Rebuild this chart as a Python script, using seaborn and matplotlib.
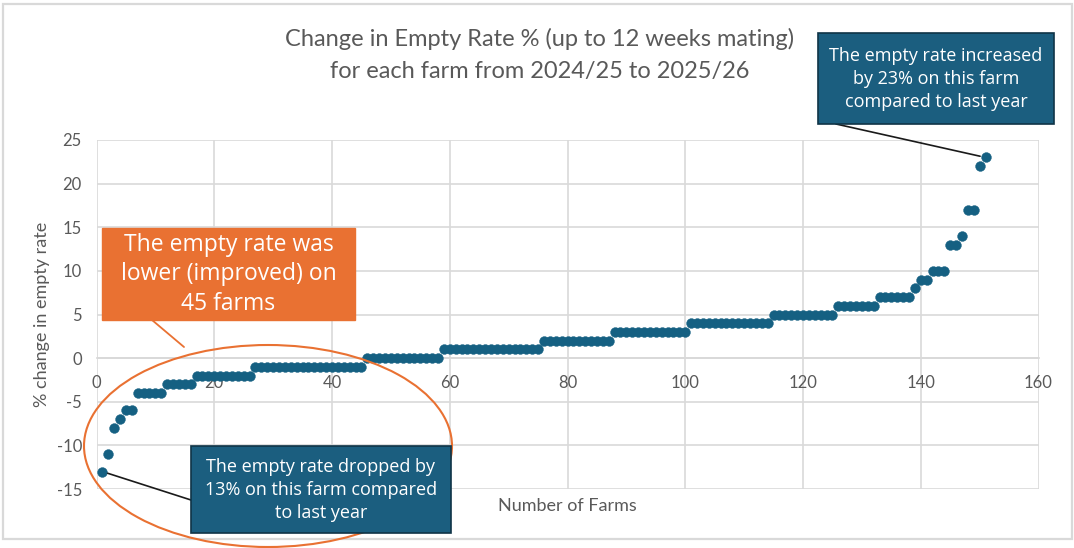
import numpy as np
import pandas as pd
import matplotlib
matplotlib.use("Agg")
import matplotlib.pyplot as plt
import seaborn as sns
from matplotlib.patches import Rectangle, Ellipse

# % change in empty rate, sorted; each level repeated for the farms on it
levels = [-13, -11, -8, -7, -6, -4, -3, -2, -1, 0, 1, 2, 3, 4, 5, 6, 7, 8, 9, 10, 13, 14, 17, 22, 23]
farms_per_level = [1, 1, 1, 1, 2, 5, 5, 10, 19, 13, 17, 12, 13, 14, 11, 7, 6, 1, 2, 3, 2, 1, 2, 1, 1]

x_ticks = [0, 20, 40, 60, 80, 100, 120, 140, 160]
y_ticks = [-15, -10, -5, 0, 5, 10, 15, 20, 25]

title = "Change in Empty Rate % (up to 12 weeks mating)\nfor each farm from 2024/25 to 2025/26"
note_high = "The empty rate increased\nby 23% on this farm\ncompared to last year"
note_low = "The empty rate dropped by\n13% on this farm compared\nto last year"
note_improved = "The empty rate was\nlower (improved) on\n45 farms"

change = np.repeat(levels, farms_per_level)
df = pd.DataFrame({"farm": np.arange(1, len(change) + 1), "change": change})

W, H = 1074, 548
sns.set_theme(style="white")
plt.rcParams["axes.unicode_minus"] = False
narrow = ["Lato", "DejaVu Sans"]
body = ["Open Sans", "DejaVu Sans"]
grey = "#595959"
blue = "#156082"
orange = "#E97132"
box_blue = "#1B5E7F"


def fx(x):
    return x / W


def fy(y):
    return 1 - y / H


fig = plt.figure(figsize=(W / 100, H / 100), dpi=100)
ax = fig.add_axes([fx(96.5), fy(489), fx(1038.5) - fx(96.5), fy(140) - fy(489)])

sns.scatterplot(data=df, x="farm", y="change", ax=ax, color=blue, s=50,
                edgecolor=blue, linewidth=0.3, zorder=3, clip_on=False)

ax.set_xlim(0, 160)
ax.set_ylim(-15, 25)
ax.set_xticks(x_ticks)
ax.set_yticks(y_ticks)
ax.grid(True, color="#D9D9D9", linewidth=1.2)
ax.set_axisbelow(True)
for side in ["top", "right", "left"]:
    ax.spines[side].set_visible(False)
ax.spines["bottom"].set_position(("data", 0))
ax.spines["bottom"].set_color("#D9D9D9")
ax.tick_params(axis="both", length=0, labelsize=12, labelcolor=grey)
ax.tick_params(axis="x", pad=12)
ax.tick_params(axis="y", pad=10.5)
for lab in ax.get_xticklabels() + ax.get_yticklabels():
    lab.set_family(narrow)

ax.set_xlabel("Number of Farms", fontsize=13, color=grey, family=narrow)
ax.xaxis.set_label_coords(0.5, -0.025)
ax.set_ylabel("% change in empty rate", fontsize=13, color=grey, family=narrow)
ax.yaxis.set_label_coords(-0.049, 0.5)

fig.text(fx(540), fy(55), title, ha="center", va="center", fontsize=17,
         color=grey, family=narrow, linespacing=1.6)

# outer chart frame
fig.patches.append(Rectangle((fx(3), fy(539)), fx(1072) - fx(3), fy(4) - fy(539),
                             transform=fig.transFigure, fill=False, edgecolor="#D9D9D9",
                             linewidth=1.6, zorder=0))

# ellipse around improved farms
fig.patches.append(Ellipse((fx(268), fy(446)), fx(368), 202 / H, transform=fig.transFigure,
                           fill=False, edgecolor=orange, linewidth=1.5, zorder=4))

# orange callout
fig.patches.append(Rectangle((fx(102), fy(320)), fx(355) - fx(102), fy(228) - fy(320),
                             transform=fig.transFigure, facecolor=orange, edgecolor=orange,
                             zorder=5))
fig.lines.append(plt.Line2D([fx(152), fx(184)], [fy(320), fy(347)], transform=fig.transFigure,
                            color=orange, linewidth=1.3, zorder=4))
fig.text(fx(228.5), fy(274.5), note_improved, ha="center", va="center", fontsize=16.5,
         color="white", family=body, linespacing=1.3, zorder=6)

# high callout
fig.patches.append(Rectangle((fx(818), fy(124)), fx(1054) - fx(818), fy(33) - fy(124),
                             transform=fig.transFigure, facecolor=box_blue, edgecolor="#0F3447",
                             linewidth=1.2, zorder=5))
fig.text(fx(936), fy(79), note_high, ha="center", va="center", fontsize=13,
         color="white", family=body, linespacing=1.38, zorder=6)
ax.annotate("", xy=(151, 23), xycoords="data", xytext=(fx(836), fy(124)),
            textcoords="figure fraction",
            arrowprops=dict(arrowstyle="-", color="#1A1A1A", lw=1.2, shrinkA=0, shrinkB=4))

# low callout
fig.patches.append(Rectangle((fx(191), fy(533)), fx(451) - fx(191), fy(446) - fy(533),
                             transform=fig.transFigure, facecolor=box_blue, edgecolor="#0F3447",
                             linewidth=1.2, zorder=5))
fig.text(fx(321), fy(490), note_low, ha="center", va="center", fontsize=13,
         color="white", family=body, linespacing=1.38, zorder=6)
ax.annotate("", xy=(1, -13), xycoords="data", xytext=(fx(191), fy(500)),
            textcoords="figure fraction",
            arrowprops=dict(arrowstyle="-", color="#1A1A1A", lw=1.2, shrinkA=0, shrinkB=4))

fig.savefig("out.png", dpi=100)
